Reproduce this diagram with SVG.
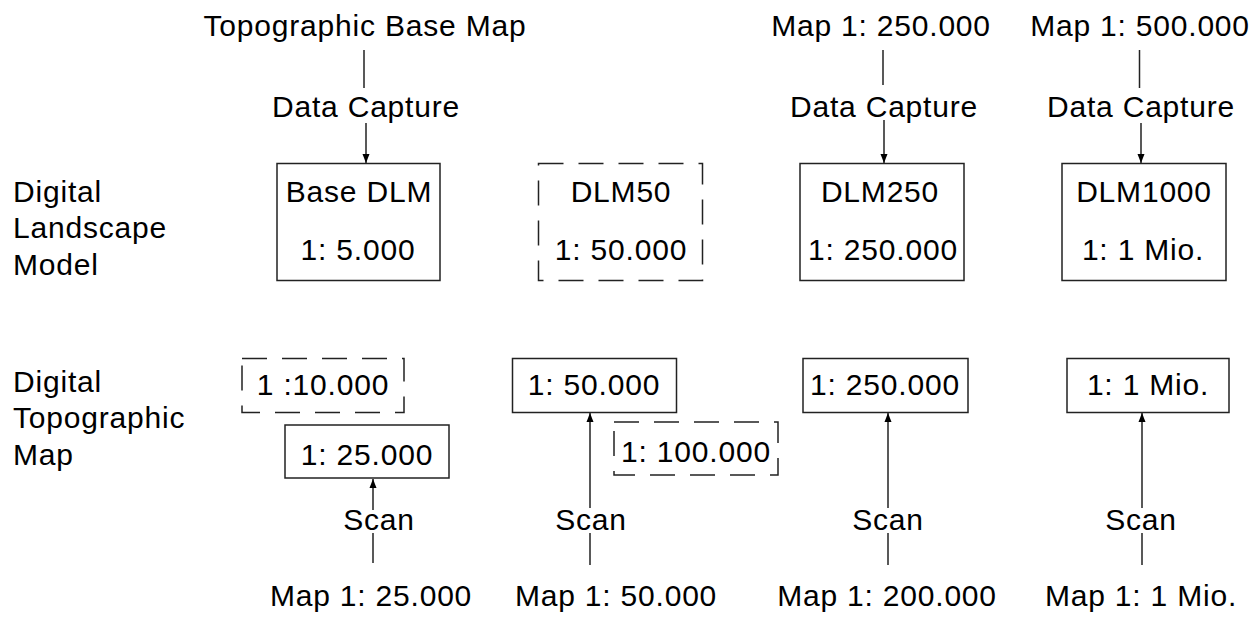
<svg xmlns="http://www.w3.org/2000/svg" width="1260" height="617" viewBox="0 0 1260 617">
<defs>
<style>
text{font-family:"Liberation Sans",Arial,sans-serif;font-size:30px;fill:#000;letter-spacing:0.8px}
.c{text-anchor:middle}
.box{fill:none;stroke:#222;stroke-width:1.5}
.dash{fill:none;stroke:#222;stroke-width:1.5;stroke-dasharray:25 15}
.ln{fill:none;stroke:#222;stroke-width:1.5}
</style>
<marker id="ah" markerUnits="userSpaceOnUse" markerWidth="10" markerHeight="10" viewBox="0 0 10 10" refX="9" refY="5" orient="auto">
<path d="M0,1.5 L9,5 L0,8.5 Z" fill="#000"/>
</marker>
</defs>
<rect width="1260" height="617" fill="#fff"/>

<g id="row-labels">
<text x="13" y="202">Digital</text>
<text x="13" y="238">Landscape</text>
<text x="13" y="275">Model</text>
<text x="13" y="392">Digital</text>
<text x="13" y="428">Topographic</text>
<text x="13" y="465">Map</text>
</g>

<g id="sources">
<text class="c" x="365" y="36">Topographic Base Map</text>
<text class="c" x="881" y="36">Map 1: 250.000</text>
<text class="c" x="1140" y="36">Map 1: 500.000</text>
<text class="c" x="371" y="606">Map 1: 25.000</text>
<text class="c" x="616" y="606">Map 1: 50.000</text>
<text class="c" x="887" y="606">Map 1: 200.000</text>
<text class="c" x="1141" y="606">Map 1: 1 Mio.</text>
</g>

<g id="process-labels">
<text class="c" x="366" y="117">Data Capture</text>
<text class="c" x="884" y="117">Data Capture</text>
<text class="c" x="1141" y="117">Data Capture</text>
<text class="c" x="379" y="530">Scan</text>
<text class="c" x="591" y="530">Scan</text>
<text class="c" x="888" y="530">Scan</text>
<text class="c" x="1141" y="530">Scan</text>
</g>

<g id="base-dlm">
<rect class="box" x="277" y="163.5" width="163" height="117"/>
<text class="c" x="359" y="202">Base DLM</text>
<text class="c" x="358" y="260">1: 5.000</text>
</g>
<g id="dlm50">
<rect class="dash" x="538.5" y="163.5" width="164" height="117"/>
<text class="c" x="621" y="202">DLM50</text>
<text class="c" x="621" y="260">1: 50.000</text>
</g>
<g id="dlm250">
<rect class="box" x="800" y="163.5" width="164" height="117"/>
<text class="c" x="880" y="202">DLM250</text>
<text class="c" x="883" y="260">1: 250.000</text>
</g>
<g id="dlm1000">
<rect class="box" x="1062" y="163.5" width="164" height="117"/>
<text class="c" x="1144" y="202">DLM1000</text>
<text class="c" x="1143" y="260">1: 1 Mio.</text>
</g>

<g id="dtk10">
<rect class="dash" x="242" y="358.5" width="162" height="54"/>
<text class="c" x="323" y="395">1 :10.000</text>
</g>
<g id="dtk25">
<rect class="box" x="285" y="425" width="164" height="53"/>
<text class="c" x="367" y="465">1: 25.000</text>
</g>
<g id="dtk50">
<rect class="box" x="512.5" y="358.5" width="164" height="54"/>
<text class="c" x="594" y="395">1: 50.000</text>
</g>
<g id="dtk100">
<rect class="dash" x="614" y="422" width="164" height="53"/>
<text class="c" x="696" y="462">1: 100.000</text>
</g>
<g id="dtk250">
<rect class="box" x="803" y="358.5" width="165" height="54"/>
<text class="c" x="885" y="395">1: 250.000</text>
</g>
<g id="dtk1000">
<rect class="box" x="1067" y="358.5" width="162" height="54"/>
<text class="c" x="1148" y="395">1: 1 Mio.</text>
</g>

<g id="connectors">
<line class="ln" x1="364" y1="50" x2="364" y2="88"/>
<line class="ln" x1="366" y1="123" x2="366" y2="163" marker-end="url(#ah)"/>
<line class="ln" x1="883" y1="50" x2="883" y2="85"/>
<line class="ln" x1="884" y1="120" x2="884" y2="163" marker-end="url(#ah)"/>
<line class="ln" x1="1139.5" y1="50" x2="1139.5" y2="88"/>
<line class="ln" x1="1141" y1="123" x2="1141" y2="163" marker-end="url(#ah)"/>

<line class="ln" x1="373" y1="563" x2="373" y2="533"/>
<line class="ln" x1="373" y1="510" x2="373" y2="479" marker-end="url(#ah)"/>
<line class="ln" x1="590" y1="565" x2="590" y2="533"/>
<line class="ln" x1="590" y1="508" x2="590" y2="413" marker-end="url(#ah)"/>
<line class="ln" x1="888" y1="565" x2="888" y2="533"/>
<line class="ln" x1="888" y1="508" x2="888" y2="413" marker-end="url(#ah)"/>
<line class="ln" x1="1142" y1="565" x2="1142" y2="533"/>
<line class="ln" x1="1142" y1="508" x2="1142" y2="413" marker-end="url(#ah)"/>
</g>
</svg>
